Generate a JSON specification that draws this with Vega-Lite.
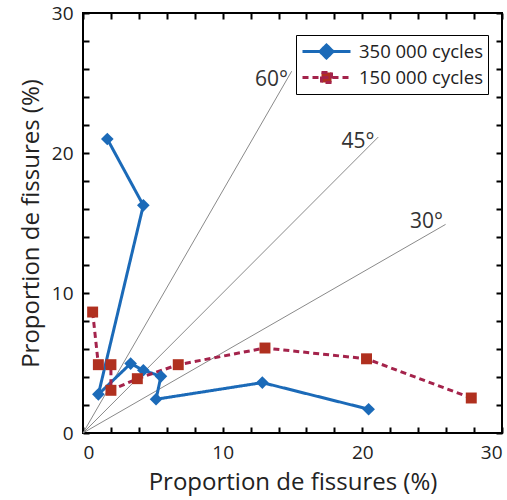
{
  "$schema": "https://vega.github.io/schema/vega-lite/v6.json",
  "width": 419,
  "height": 420,
  "autosize": {"type": "none"},
  "padding": {"left": 83, "top": 13, "right": 5, "bottom": 67},
  "background": "white",
  "config": {
    "view": {"stroke": "black", "strokeWidth": 2},
    "font": "Open Sans",
    "axis": {
      "domain": false,
      "ticks": false,
      "grid": true,
      "gridColor": "black",
      "gridWidth": 2,
      "gridOpacity": 1,
      "labelOverlap": false,
      "labelFont": "Open Sans",
      "labelFontSize": 19,
      "labelColor": "#222",
      "titleFont": "Open Sans",
      "titleFontSize": 24,
      "titleFontWeight": "normal",
      "titleColor": "#222"
    }
  },
  "datasets": {
    "series": [
      {"series": "350 000 cycles", "i": 1, "x": 1.74, "y": 21.0},
      {"series": "350 000 cycles", "i": 2, "x": 4.32, "y": 16.26},
      {"series": "350 000 cycles", "i": 3, "x": 1.1, "y": 2.76},
      {"series": "350 000 cycles", "i": 4, "x": 3.41, "y": 4.96},
      {"series": "350 000 cycles", "i": 5, "x": 4.32, "y": 4.48},
      {"series": "350 000 cycles", "i": 6, "x": 5.58, "y": 4.05},
      {"series": "350 000 cycles", "i": 7, "x": 5.23, "y": 2.41},
      {"series": "350 000 cycles", "i": 8, "x": 12.84, "y": 3.6},
      {"series": "350 000 cycles", "i": 9, "x": 20.45, "y": 1.7},
      {"series": "150 000 cycles", "i": 1, "x": 0.69, "y": 8.64},
      {"series": "150 000 cycles", "i": 2, "x": 1.1, "y": 4.88},
      {"series": "150 000 cycles", "i": 3, "x": 2.0, "y": 4.88},
      {"series": "150 000 cycles", "i": 4, "x": 2.0, "y": 3.05},
      {"series": "150 000 cycles", "i": 5, "x": 3.89, "y": 3.88},
      {"series": "150 000 cycles", "i": 6, "x": 6.82, "y": 4.88},
      {"series": "150 000 cycles", "i": 7, "x": 13.03, "y": 6.07},
      {"series": "150 000 cycles", "i": 8, "x": 20.3, "y": 5.3},
      {"series": "150 000 cycles", "i": 9, "x": 27.8, "y": 2.5}
    ],
    "refs": [
      {"angle": "60°", "x0": 0, "y0": 0, "x1": 14.94, "y1": 25.84, "lx": 13.49, "ly": 25.23},
      {"angle": "45°", "x0": 0, "y0": 0, "x1": 21.14, "y1": 21.14, "lx": 19.69, "ly": 20.79},
      {"angle": "30°", "x0": 0, "y0": 0, "x1": 25.96, "y1": 14.9, "lx": 24.59, "ly": 15.07}
    ]
  },
  "layer": [
    {
      "data": {"name": "refs"},
      "mark": {"type": "rule", "color": "#8a8a8a", "strokeWidth": 1},
      "encoding": {
        "x": {"field": "x0", "type": "quantitative", "scale": {"domain": [0, 30], "nice": false},
          "axis": {"orient": "bottom", "tickCount": 15,
            "gridDash": [6, 408, 6, 0],
            "labelExpr": "datum.value % 10 === 0 ? datum.label : ''", "labelPadding": 10,
            "title": "Proportion de fissures (%)", "titlePadding": 8}},
        "y": {"field": "y0", "type": "quantitative", "scale": {"domain": [0, 30], "nice": false},
          "axis": {"orient": "left", "tickCount": 15,
            "gridDash": [6, 407, 6, 0],
            "labelExpr": "datum.value % 10 === 0 ? datum.label : ''", "labelPadding": 10,
            "title": "Proportion de fissures (%)", "titlePadding": 8}},
        "x2": {"field": "x1"},
        "y2": {"field": "y1"}
      }
    },
    {
      "data": {"name": "refs"},
      "mark": {"type": "text", "fontSize": 21, "color": "#333", "align": "center", "baseline": "middle"},
      "encoding": {
        "x": {"field": "lx", "type": "quantitative"},
        "y": {"field": "ly", "type": "quantitative"},
        "text": {"field": "angle"}
      }
    },
    {
      "data": {"name": "series"},
      "mark": {"type": "line", "strokeWidth": 3},
      "encoding": {
        "x": {"field": "x", "type": "quantitative"},
        "y": {"field": "y", "type": "quantitative"},
        "order": {"field": "i"},
        "color": {"field": "series", "type": "nominal",
          "scale": {"domain": ["350 000 cycles", "150 000 cycles"], "range": ["#1b6ab8", "#a4234b"]},
          "legend": {
            "title": null, "orient": "none", "legendX": 213, "legendY": 22,
            "strokeColor": "black", "padding": 5, "labelFontSize": 18.5, "labelColor": "#222",
            "labelFont": "Open Sans", "symbolSize": 400, "symbolStrokeWidth": 3, "labelOffset": 35, "rowPadding": 2,
            "encode": {"symbols": {"update": {
              "shape": {"signal": "datum.value === '350 000 cycles' ? 'M-1,0L3.8,0M1.4,-0.65L2.05,0L1.4,0.65L0.75,0Z' : 'M-1,0L3.8,0M0.9,-0.5L1.9,-0.5L1.9,0.5L0.9,0.5Z'"},
              "fill": {"signal": "datum.value === '350 000 cycles' ? '#1b6ab8' : '#b0301f'"},
              "strokeDash": {"signal": "datum.value === '150 000 cycles' ? [6, 4] : [1, 0]"},
              "size": {"value": 400},
              "strokeWidth": {"value": 3},
              "opacity": {"value": 1}
            }}}
          }},
        "strokeDash": {"condition": {"test": "datum.series === '150 000 cycles'", "value": [6, 4]}, "value": [1, 0]}
      }
    },
    {
      "data": {"name": "series"},
      "mark": {"type": "point", "filled": true, "opacity": 1},
      "encoding": {
        "x": {"field": "x", "type": "quantitative"},
        "y": {"field": "y", "type": "quantitative"},
        "shape": {"condition": {"test": "datum.series === '350 000 cycles'", "value": "diamond"}, "value": "square"},
        "fill": {"condition": {"test": "datum.series === '350 000 cycles'", "value": "#1b6ab8"}, "value": "#b0301f"},
        "size": {"condition": {"test": "datum.series === '350 000 cycles'", "value": 160}, "value": 120}
      }
    }
  ]
}
